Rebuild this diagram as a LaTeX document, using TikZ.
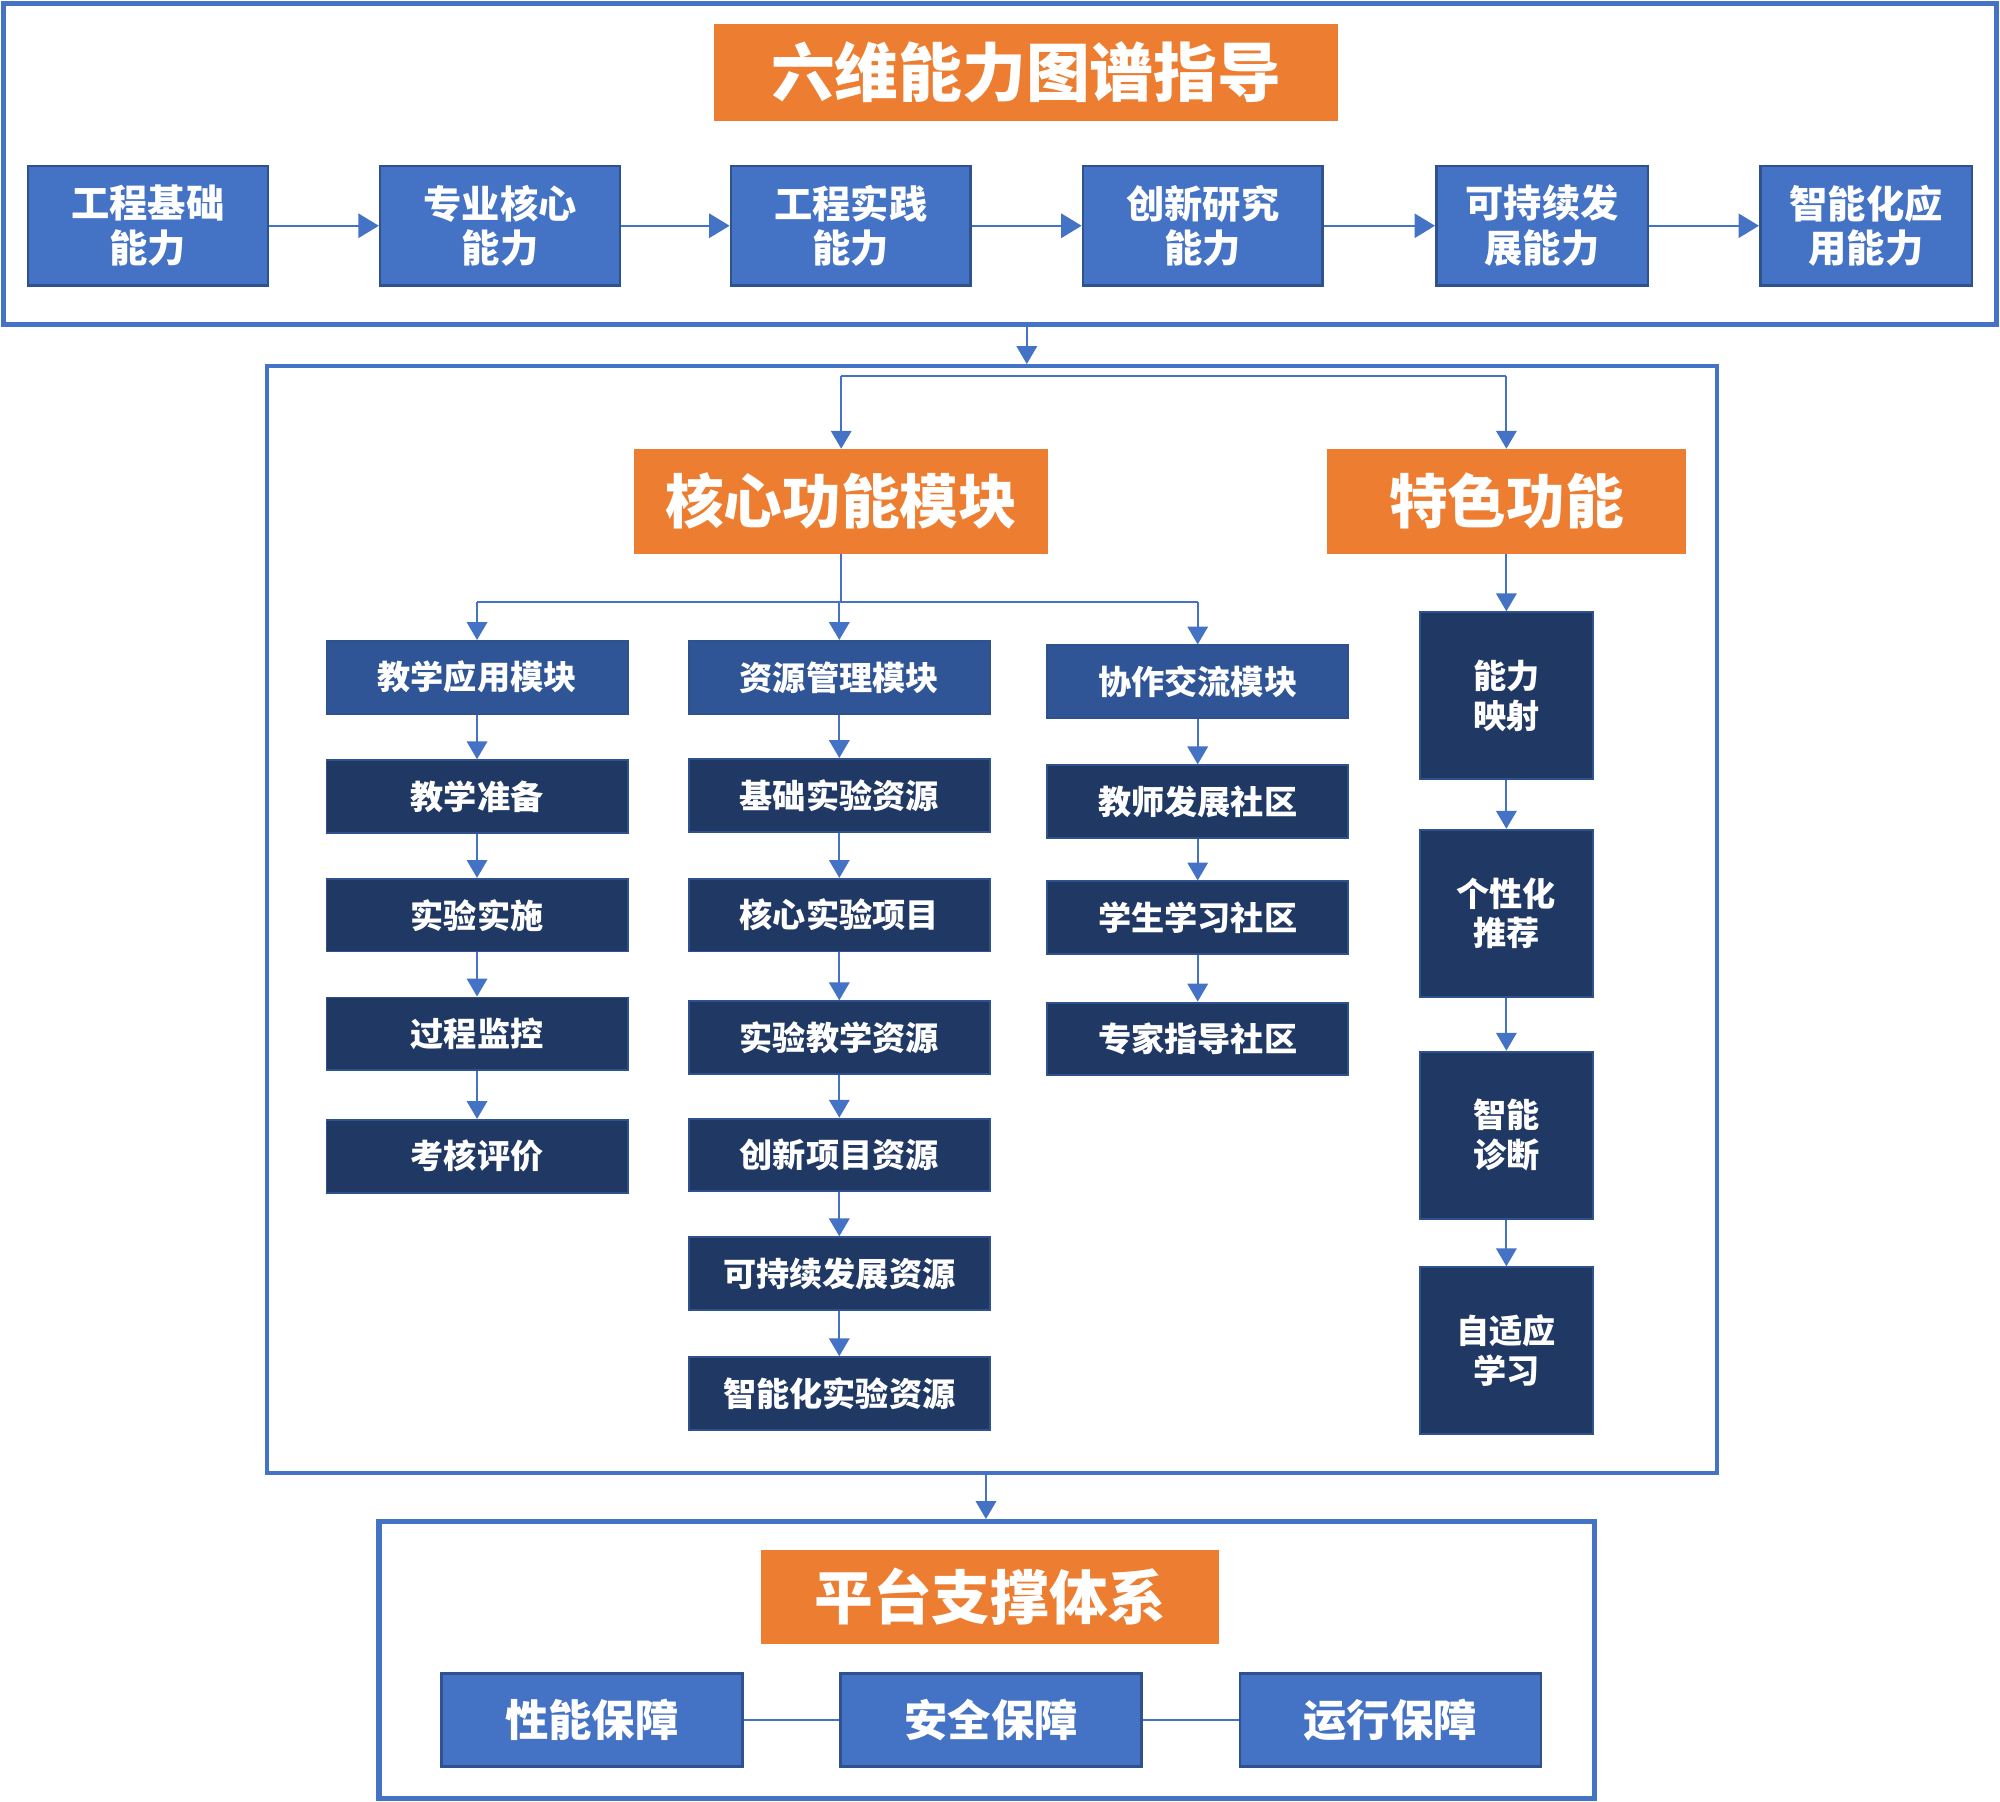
\documentclass[tikz,border=0pt]{standalone}
\usepackage{fontspec}
\setmainfont{Noto Sans CJK SC}
\usetikzlibrary{arrows.meta}
\definecolor{cblue}{HTML}{4472C4}
\definecolor{cdark}{HTML}{2F528F}
\definecolor{cmod}{HTML}{2F5597}
\definecolor{cnavy}{HTML}{203864}
\definecolor{corange}{HTML}{ED7D31}
\begin{document}
\begin{tikzpicture}[x=1pt,y=-1pt,
  link/.style={draw=cblue, line width=1.6pt},
  arr/.style={link, -{Triangle[length=14pt,width=16pt]}},
  arrbig/.style={link, -{Triangle[length=16pt,width=19pt]}},
  frame/.style={draw=cblue, line width=3.8pt, inner sep=0pt},
  ttl/.style={fill=corange, text=white, font=\bfseries\fontsize{46}{50}\selectfont, inner sep=0pt},
  abox/.style={fill=cblue, draw=cdark, line width=2pt, text=white, font=\bfseries\fontsize{30}{35}\selectfont, align=center, inner sep=0pt, minimum height=94pt},
  mbox/.style={fill=cmod, draw=cdark, line width=1.5pt, text=white, font=\bfseries\fontsize{26}{30}\selectfont, inner sep=0pt, minimum width=236pt, minimum height=57pt},
  ibox/.style={mbox, fill=cnavy},
  fbox/.style={fill=cnavy, draw=cdark, line width=1.5pt, text=white, font=\bfseries\fontsize{26}{31}\selectfont, align=center, inner sep=0pt, minimum width=136pt, minimum height=131pt},
  pbox/.style={fill=cblue, draw=cdark, line width=2pt, text=white, font=\bfseries\fontsize{34}{38}\selectfont, inner sep=0pt, minimum width=236pt, minimum height=73pt}
]
\useasboundingbox (0,0) rectangle (1568,1412);

% ---------- top section ----------
\node[frame, minimum width=1563pt, minimum height=252pt] (topframe) at (784,128.5) {};
\node[ttl, minimum width=489pt, minimum height=76pt, font=\bfseries\fontsize{50}{54}\selectfont] (title) at (804.5,57) {六维能力图谱指导};

\node[abox, minimum width=188pt] (a1) at (116,177) {工程基础\\能力};
\node[abox, minimum width=188pt] (a2) at (392,177) {专业核心\\能力};
\node[abox, minimum width=188pt] (a3) at (667,177) {工程实践\\能力};
\node[abox, minimum width=188pt] (a4) at (943,177) {创新研究\\能力};
\node[abox, minimum width=166pt] (a5) at (1209,177) {可持续发\\展能力};
\node[abox, minimum width=166pt] (a6) at (1463,177) {智能化应\\用能力};
\draw[arrbig] (a1) -- (a2);
\draw[arrbig] (a2) -- (a3);
\draw[arrbig] (a3) -- (a4);
\draw[arrbig] (a4) -- (a5);
\draw[arrbig] (a5) -- (a6);

% ---------- middle section ----------
\node[frame, line width=3.2pt, minimum width=1137pt, minimum height=868pt] (midframe) at (777.5,721) {};
\coordinate (x805) at (805,0);
\draw[arr] (topframe.south -| x805) -- (midframe.north -| x805);

\node[ttl, minimum width=325pt, minimum height=82pt] (core) at (659.5,393) {核心功能模块};
\node[ttl, minimum width=282pt, minimum height=82pt] (feat) at (1181,393) {特色功能};
\coordinate (b1) at (0,295);
\draw[link] (core.north |- b1) -- (feat.north |- b1);
\draw[arr] (core.north |- b1) -- (core.north);
\draw[arr] (feat.north |- b1) -- (feat.north);

% column 1
\node[mbox] (m1) at (374,531) {教学应用模块};
\node[ibox] (c11) at (374,624.5) {教学准备};
\node[ibox] (c12) at (374,717.5) {实验实施};
\node[ibox] (c13) at (374,810.5) {过程监控};
\node[ibox] (c14) at (374,906.5) {考核评价};
% column 2
\node[mbox] (m2) at (658,531) {资源管理模块};
\node[ibox] (c21) at (658,623.5) {基础实验资源};
\node[ibox] (c22) at (658,717.5) {核心实验项目};
\node[ibox] (c23) at (658,813.5) {实验教学资源};
\node[ibox] (c24) at (658,905.5) {创新项目资源};
\node[ibox] (c25) at (658,998.5) {可持续发展资源};
\node[ibox] (c26) at (658,1092.5) {智能化实验资源};
% column 3
\node[mbox] (m3) at (939,534.5) {协作交流模块};
\node[ibox] (c31) at (939,628.5) {教师发展社区};
\node[ibox] (c32) at (939,719.5) {学生学习社区};
\node[ibox] (c33) at (939,814.5) {专家指导社区};
% column 4
\node[fbox] (f1) at (1181,545.5) {能力\\映射};
\node[fbox] (f2) at (1181,716) {个性化\\推荐};
\node[fbox] (f3) at (1181,890) {智能\\诊断};
\node[fbox] (f4) at (1181,1059) {自适应\\学习};

\coordinate (b2) at (0,472);
\draw[link] (core.south) -- (core.south |- b2);
\draw[link] (m1.north |- b2) -- (m3.north |- b2);
\draw[arr] (m1.north |- b2) -- (m1.north);
\draw[arr] (m2.north |- b2) -- (m2.north);
\draw[arr] (m3.north |- b2) -- (m3.north);

\draw[arr] (m1) -- (c11);
\draw[arr] (c11) -- (c12);
\draw[arr] (c12) -- (c13);
\draw[arr] (c13) -- (c14);

\draw[arr] (m2) -- (c21);
\draw[arr] (c21) -- (c22);
\draw[arr] (c22) -- (c23);
\draw[arr] (c23) -- (c24);
\draw[arr] (c24) -- (c25);
\draw[arr] (c25) -- (c26);

\draw[arr] (m3) -- (c31);
\draw[arr] (c31) -- (c32);
\draw[arr] (c32) -- (c33);

\draw[arr] (feat) -- (f1);
\draw[arr] (f1) -- (f2);
\draw[arr] (f2) -- (f3);
\draw[arr] (f3) -- (f4);

% ---------- bottom section ----------
\node[frame, line width=4.2pt, minimum width=953pt, minimum height=217pt] (botframe) at (773.5,1301.5) {};
\coordinate (x773) at (773,0);
\draw[arr] (midframe.south -| x773) -- (botframe.north -| x773);

\node[ttl, minimum width=359pt, minimum height=74pt] (plat) at (776.5,1252) {平台支撑体系};
\node[pbox] (p1) at (464,1348.5) {性能保障};
\node[pbox] (p2) at (777,1348.5) {安全保障};
\node[pbox] (p3) at (1090,1348.5) {运行保障};
\draw[link] (p1) -- (p2);
\draw[link] (p2) -- (p3);
\end{tikzpicture}
\end{document}
